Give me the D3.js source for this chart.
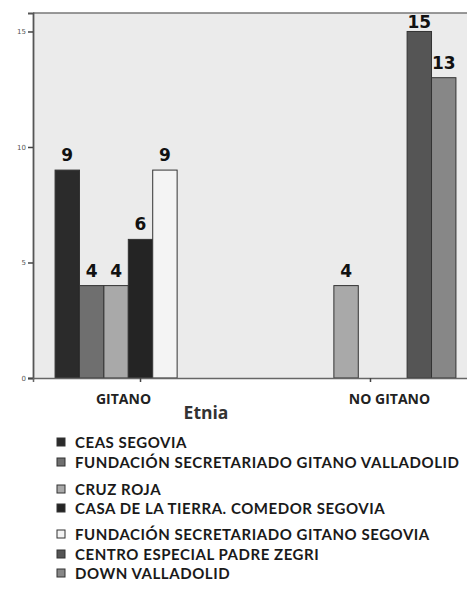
<!DOCTYPE html>
<html><head><meta charset="utf-8">
<script src="https://cdn.jsdelivr.net/npm/d3@7/dist/d3.min.js"></script>
<style>body{margin:0;background:#fff}svg{display:block}</style>
</head><body><svg id="c" width="467" height="590"></svg>
<script>
const categories = ["GITANO", "NO GITANO"];
const series = ["CEAS SEGOVIA", "FUNDACIÓN SECRETARIADO GITANO VALLADOLID", "CRUZ ROJA",
  "CASA DE LA TIERRA. COMEDOR SEGOVIA", "FUNDACIÓN SECRETARIADO GITANO SEGOVIA",
  "CENTRO ESPECIAL PADRE ZEGRI", "DOWN VALLADOLID"];
const gitanoValues = [9, 4, 4, 6, 9, null, null];
const noGitanoValues = [null, null, 4, null, null, 15, 13];
const yTicks = [0, 5, 10, 15];
const colors = ["#2b2b2b", "#6f6f6f", "#a9a9a9", "#242424", "#f4f4f4", "#555555", "#878787"];
const axisTitle = "Etnia";

const svg = d3.select("#c");
const L = 33, T = 13, B = 378, R = 478;
const x0 = d3.scaleBand().domain(categories).range([L, R]).paddingInner(0.257).paddingOuter(0.096);
const x1 = d3.scaleBand().domain(series).range([0, x0.bandwidth()]);
const y = d3.scaleLinear().domain([0, 15.8]).range([B, T]);
const color = d3.scaleOrdinal().domain(series).range(colors);

svg.append("rect").attr("x", L).attr("y", T).attr("width", R - L).attr("height", B - T).attr("fill", "#ebebeb");
svg.append("line").attr("x1", L).attr("x2", R).attr("y1", T).attr("y2", T).attr("stroke", "#777").attr("stroke-width", 1.5);

const data = [];
categories.forEach((c, ci) => {
  const vals = ci === 0 ? gitanoValues : noGitanoValues;
  series.forEach((s, si) => { if (vals[si] != null) data.push({c, s, v: vals[si]}); });
});

svg.append("g").selectAll("rect").data(data).join("rect")
  .attr("x", d => x0(d.c) + x1(d.s))
  .attr("y", d => y(d.v))
  .attr("width", x1.bandwidth())
  .attr("height", d => y(0) - y(d.v))
  .attr("fill", d => color(d.s))
  .attr("stroke", "#333").attr("stroke-width", 1);

svg.append("g").selectAll("text").data(data).join("text")
  .attr("x", d => x0(d.c) + x1(d.s) + x1.bandwidth() / 2)
  .attr("y", d => Math.max(y(d.v) - 9, 28))
  .attr("text-anchor", "middle")
  .attr("font-family", "DejaVu Sans").attr("font-weight", "bold").attr("font-size", 17)
  .attr("fill", "#111")
  .text(d => d.v);

// y axis
const ya = svg.append("g").attr("transform", `translate(${L},0)`)
  .call(d3.axisLeft(y).tickValues(yTicks).tickSize(5).tickPadding(2));
ya.select(".domain").attr("stroke", "#555").attr("stroke-width", 1.8);
ya.selectAll(".tick line").attr("stroke", "#444").attr("stroke-width", 1.5);
ya.selectAll(".tick text").attr("font-family", "DejaVu Sans").attr("font-size", 7).attr("fill", "#555");

// x axis
const xa = svg.append("g").attr("transform", `translate(0,${B})`)
  .call(d3.axisBottom(x0).tickSize(4).tickFormat(""));
xa.select(".domain").attr("stroke", "#666").attr("stroke-width", 1.5);
xa.selectAll(".tick line").attr("stroke", "#444").attr("stroke-width", 1.5);

const labelShift = {"GITANO": -17, "NO GITANO": 19};
svg.append("g").selectAll("text").data(categories).join("text")
  .attr("x", d => x0(d) + x0.bandwidth() / 2 + labelShift[d])
  .attr("y", 404)
  .attr("text-anchor", "middle")
  .attr("font-family", "Open Sans").attr("font-weight", "bold").attr("font-size", 14)
  .attr("fill", "#222")
  .text(d => d);

svg.append("text").attr("x", 206).attr("y", 419).attr("text-anchor", "middle")
  .attr("font-family", "Open Sans").attr("font-weight", "bold").attr("font-size", 17.5)
  .attr("fill", "#333").text(axisTitle);

// legend
const legendY = [442, 462, 489, 508, 534, 554, 573];
const lg = svg.append("g").selectAll("g").data(series).join("g")
  .attr("transform", (d, i) => `translate(57,${legendY[i]})`);
lg.append("rect").attr("x", 0).attr("y", -4).attr("width", 8).attr("height", 8)
  .attr("fill", d => color(d)).attr("stroke", "#333").attr("stroke-width", 1);
lg.append("text").attr("x", 18).attr("y", 5.5)
  .attr("font-family", "Lato").attr("font-weight", "bold").attr("font-size", 15)
  .attr("letter-spacing", 0.55)
  .attr("fill", "#1a1a1a").text(d => d);
</script></body></html>
